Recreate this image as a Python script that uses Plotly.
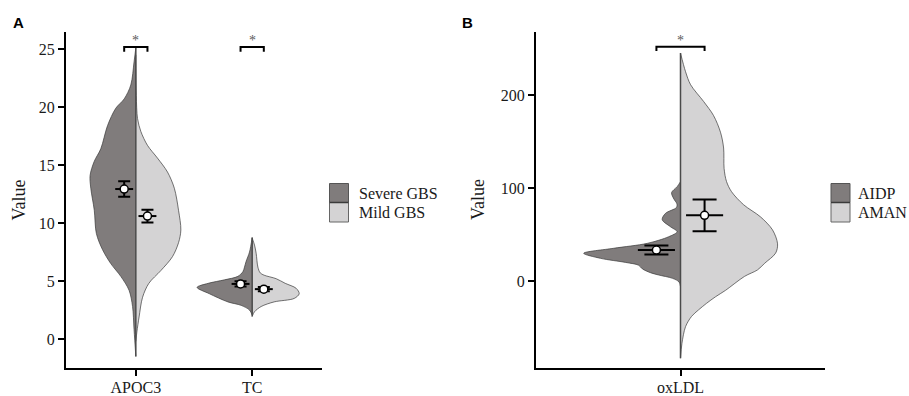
import plotly.graph_objects as go

# ---------------- data ----------------
CATS_A = ["APOC3", "TC"]
CATS_B = ["oxLDL"]
GROUPS_A = ["Severe GBS", "Mild GBS"]
GROUPS_B = ["AIDP", "AMAN"]

# violin outlines: value levels and half-widths (category units)
APOC3_SEV_V = [25.1, 23.9, 21.9, 20.7, 19.9, 18.4, 16.4, 15.3, 14.1, 13.0, 11.1, 9.1, 7.7, 6.5, 5.4, 4.2, 2.8, 0.8, -1.5]
APOC3_SEV_W = [0, 0.015, 0.043, 0.100, 0.172, 0.243, 0.301, 0.358, 0.393, 0.387, 0.357, 0.339, 0.286, 0.215, 0.129, 0.058, 0.028, 0.015, 0]
APOC3_MILD_V = [24.5, 21.0, 19.0, 17.9, 16.7, 15.6, 14.4, 13.0, 11.1, 9.4, 8.3, 7.1, 5.9, 4.8, 3.6, 1.9, 0.6, -0.2]
APOC3_MILD_W = [0, 0.004, 0.015, 0.043, 0.100, 0.186, 0.272, 0.331, 0.367, 0.387, 0.367, 0.315, 0.215, 0.112, 0.058, 0.028, 0.009, 0]

TC_SEV_V = [8.75, 7.5, 6.7, 6.2, 5.8, 5.4, 5.1, 4.8, 4.45, 3.9, 3.2, 2.9, 2.5, 2.05]
TC_SEV_W = [0, 0.023, 0.052, 0.066, 0.080, 0.123, 0.238, 0.378, 0.473, 0.367, 0.209, 0.095, 0.023, 0]
TC_MILD_V = [8.7, 8.1, 7.4, 6.2, 5.7, 5.5, 5.2, 4.8, 4.37, 3.9, 3.5, 3.2, 2.8, 2.35, 1.95]
TC_MILD_W = [0, 0.020, 0.034, 0.049, 0.069, 0.103, 0.206, 0.284, 0.378, 0.404, 0.361, 0.189, 0.077, 0.020, 0]

OX_AIDP_V = [106.8, 101.4, 95, 88, 83, 79, 72.8, 66, 58.4, 53, 47.6, 40.5, 35.2, 29.8, 24.4, 20, 17, 13, 9, 6.5, 2.9, -1, -6]
OX_AIDP_W = [0, 0.014, 0.037, 0.027, 0.015, 0.017, 0.062, 0.076, 0.042, 0.014, 0.049, 0.138, 0.277, 0.402, 0.332, 0.228, 0.174, 0.158, 0.125, 0.091, 0.033, 0.006, 0]
OX_AMAN_V = [245, 225, 211, 193, 178, 160, 143, 121, 107, 96, 82, 69, 55, 40, 30, 19, 12, 5, -10, -17, -24, -31, -38, -49, -67, -83]
OX_AMAN_W = [0, 0.021, 0.042, 0.096, 0.137, 0.166, 0.179, 0.181, 0.191, 0.212, 0.262, 0.332, 0.382, 0.403, 0.395, 0.349, 0.320, 0.266, 0.187, 0.145, 0.108, 0.075, 0.046, 0.021, 0.006, 0]

# means and standard errors
MEAN_A_SEV = [12.93, 4.75]
SE_A_SEV = [0.67, 0.22]
MEAN_A_MILD = [10.6, 4.3]
SE_A_MILD = [0.55, 0.18]
MEAN_B = [33.3, 70.6]
SE_B = [4.8, 17.0]

# significance brackets (height of bracket, value units)
SIG_A = [25.17, 25.17]
SIG_B = [251.9]
SIG_LABEL = "*"

# ---------------- style ----------------
W, H = 909, 396
DARK = "#807c7c"
LIGHT = "#d4d3d4"
EDGE = "#3a3a3a"
SERIF = "Liberation Serif"
DODGE = 0.1
HBAR = 0.077


def px_x(p):
    return p / W


def px_y(p):
    return 1 - p / H


fig = go.Figure()


def half_violin(center, vals, widths, side, color, xa, ya):
    xs = [center + side * w for w in widths]
    fig.add_trace(go.Scatter(
        x=xs, y=vals, mode="lines", fill="toself", fillcolor=color,
        line=dict(color=EDGE, width=0.7, shape="spline", smoothing=0.9),
        xaxis=xa, yaxis=ya, showlegend=False, hoverinfo="skip"))


def center_line(center, lo, hi, xa, ya):
    fig.add_trace(go.Scatter(
        x=[center, center], y=[lo, hi], mode="lines",
        line=dict(color="#4a4a4a", width=1.5),
        xaxis=xa, yaxis=ya, showlegend=False, hoverinfo="skip"))


def mean_point(x, m, se, cap, xa, ya):
    fig.add_trace(go.Scatter(
        x=[x], y=[m], mode="markers",
        marker=dict(symbol="circle", size=8, color="white",
                    line=dict(color="black", width=1.5)),
        error_y=dict(type="data", array=[se], color="black", thickness=2, width=cap),
        error_x=dict(type="data", array=[HBAR], color="black", thickness=2, width=0),
        xaxis=xa, yaxis=ya, showlegend=False, hoverinfo="skip"))


def bracket(center, y, drop, xa, ya):
    fig.add_trace(go.Scatter(
        x=[center - DODGE, center - DODGE, center + DODGE, center + DODGE],
        y=[y - drop, y, y, y - drop], mode="lines",
        line=dict(color="black", width=2),
        xaxis=xa, yaxis=ya, showlegend=False, hoverinfo="skip"))
    fig.add_annotation(x=center, y=y, xref=xa, yref=ya, text=SIG_LABEL,
                       showarrow=False, xanchor="center", yanchor="bottom", yshift=-3,
                       font=dict(family=SERIF, size=14, color="#5a5a5a"))


# Panel A
pos_a = [1, 2]
a_data = [(APOC3_SEV_V, APOC3_SEV_W, APOC3_MILD_V, APOC3_MILD_W),
          (TC_SEV_V, TC_SEV_W, TC_MILD_V, TC_MILD_W)]
for i, (sv, sw, mv, mw) in enumerate(a_data):
    c = pos_a[i]
    half_violin(c, sv, sw, -1, DARK, "x", "y")
    half_violin(c, mv, mw, 1, LIGHT, "x", "y")
    center_line(c, min(sv + mv), max(sv + mv), "x", "y")
    mean_point(c - DODGE, MEAN_A_SEV[i], SE_A_SEV[i], 6, "x", "y")
    mean_point(c + DODGE, MEAN_A_MILD[i], SE_A_MILD[i], 6, "x", "y")
    bracket(c, SIG_A[i], 0.4, "x", "y")

# Panel B
c = 1
half_violin(c, OX_AIDP_V, OX_AIDP_W, -1, DARK, "x2", "y2")
half_violin(c, OX_AMAN_V, OX_AMAN_W, 1, LIGHT, "x2", "y2")
center_line(c, min(OX_AIDP_V + OX_AMAN_V), max(OX_AIDP_V + OX_AMAN_V), "x2", "y2")
mean_point(c - DODGE, MEAN_B[0], SE_B[0], 12, "x2", "y2")
mean_point(c + DODGE, MEAN_B[1], SE_B[1], 12, "x2", "y2")
bracket(c, SIG_B[0], 4.6, "x2", "y2")

axis_common = dict(showline=True, linecolor="black", linewidth=2, ticks="outside",
                   ticklen=6, tickwidth=2, tickcolor="black", showgrid=False,
                   zeroline=False, automargin=False,
                   tickfont=dict(family=SERIF, size=16, color="#1a1a1a"))

ydom = [px_y(368), px_y(32)]
fig.update_layout(
    width=W, height=H, margin=dict(l=0, r=0, t=0, b=0, autoexpand=False),
    paper_bgcolor="white", plot_bgcolor="white", showlegend=False,
    xaxis=dict(domain=[px_x(66), px_x(322)], range=[0.4, 2.6], tickvals=pos_a,
               ticktext=CATS_A, anchor="y", ticklabelstandoff=-2, **axis_common),
    yaxis=dict(domain=ydom, range=[-2.5, 26.47], tickvals=[0, 5, 10, 15, 20, 25],
               anchor="x", **axis_common),
    xaxis2=dict(domain=[px_x(536), px_x(825)], range=[0.4, 1.6], tickvals=[1],
                ticktext=CATS_B, anchor="y2", ticklabelstandoff=-2, **axis_common),
    yaxis2=dict(domain=ydom, range=[-93.5, 267.7], tickvals=[0, 100, 200],
                anchor="x2", **axis_common),
)

# axis titles
for xp in (18.5, 478):
    fig.add_annotation(x=px_x(xp), y=px_y(200), xref="paper", yref="paper",
                       text="Value", textangle=-90, showarrow=False,
                       xanchor="center", yanchor="middle",
                       font=dict(family=SERIF, size=18, color="#1a1a1a"))

# panel labels
for lab, xp in (("A", 18.5), ("B", 467.5)):
    fig.add_annotation(x=px_x(xp), y=px_y(22.5), xref="paper", yref="paper",
                       text="<b>%s</b>" % lab, showarrow=False,
                       xanchor="center", yanchor="middle",
                       font=dict(family="Liberation Sans", size=15, color="black"))


# legends (key boxes + labels)
def legend(x0, labels, gap):
    fig.add_shape(type="rect", xref="paper", yref="paper",
                  x0=px_x(x0), x1=px_x(x0 + 19), y0=px_y(202.5), y1=px_y(183.5),
                  fillcolor=DARK, line=dict(color="#555", width=1))
    fig.add_shape(type="rect", xref="paper", yref="paper",
                  x0=px_x(x0), x1=px_x(x0 + 19), y0=px_y(222), y1=px_y(202.5),
                  fillcolor=LIGHT, line=dict(color="#666", width=1))
    fig.add_shape(type="line", xref="paper", yref="paper",
                  x0=px_x(x0), x1=px_x(x0 + 19), y0=px_y(202.5), y1=px_y(202.5),
                  line=dict(color="#3a3a3a", width=1.5))
    for lab, yp in zip(labels, (193.5, 212.5)):
        fig.add_annotation(x=px_x(x0 + gap), y=px_y(yp), xref="paper", yref="paper",
                           text=lab, showarrow=False, xanchor="left", yanchor="middle",
                           font=dict(family=SERIF, size=16, color="#1a1a1a"))


legend(329.5, GROUPS_A, 27)
legend(831, GROUPS_B, 25)

fig.write_html(
    "out.html",
    config={"displayModeBar": False},
    post_script="document.body.style.margin='0';document.body.style.overflow='hidden';",
)
